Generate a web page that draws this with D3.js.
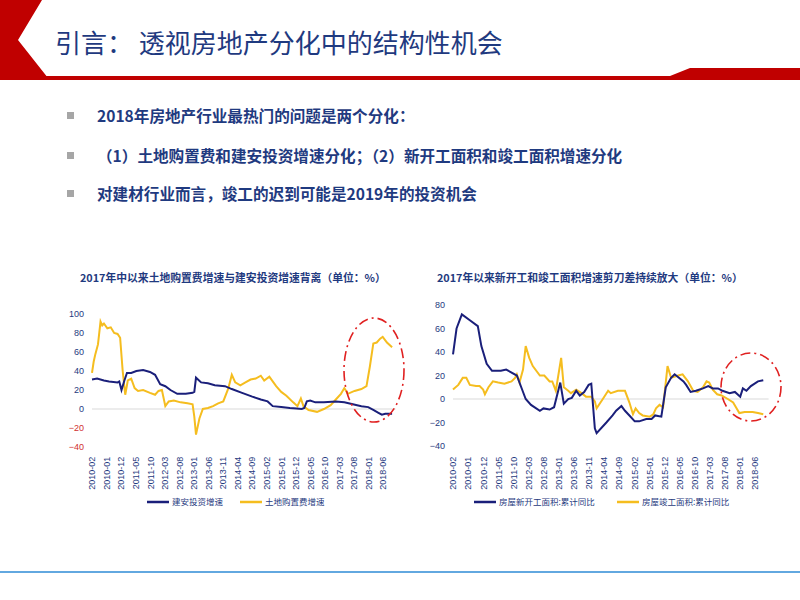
<!DOCTYPE html><html><head><meta charset="utf-8"><script src="https://cdn.jsdelivr.net/npm/d3@7"></script>
<style>body{margin:0;background:#fff}</style></head><body><svg id="s" width="800" height="600"></svg><script>
const xLabels=["2010-02","2010-01","2010-12","2011-05","2011-10","2012-03","2012-08","2013-01","2013-06","2013-11","2014-04","2014-09","2015-02","2015-01","2015-12","2016-05","2016-10","2017-03","2017-08","2018-01","2018-06"];
const yTicksL=[100,80,60,40,20,0,-20,-40];
const yTicksR=[80,60,40,20,0,-20,-40];
const jianan=[[0,31],[0.3,32],[0.7,30],[1,29],[1.5,28],[1.6,29],[1.73,20],[1.9,30],[2.05,38],[2.3,38],[2.6,40],[3.0,41],[3.4,39],[3.7,36],[4.0,26],[4.3,24],[4.6,20],[5.0,16],[5.5,16],[5.9,17],[6.0,18],[6.1,33],[6.4,28],[6.8,27],[7.2,25],[7.8,24],[8.2,21],[8.8,17],[9.4,13],[9.9,10],[10.3,8],[10.6,3],[11.1,2],[11.6,1],[12.0,0.5],[12.3,0],[12.45,1],[12.6,8],[12.8,9],[13.1,7],[13.6,7],[14.3,8],[14.8,7],[15.3,5],[15.8,3],[16.2,2],[16.5,-1],[16.8,-4],[17.0,-6],[17.2,-5],[17.6,-5]];
const tudi=[[0,38],[0.1,50],[0.2,58],[0.35,68],[0.5,92],[0.6,88],[0.7,90],[0.9,85],[1.1,86],[1.3,80],[1.5,79],[1.65,75],[1.8,40],[1.95,15],[2.1,30],[2.3,32],[2.5,22],[2.7,19],[3.0,20],[3.4,17],[3.7,15],[3.9,19],[4.1,20],[4.3,3],[4.5,8],[4.8,9],[5.2,7],[5.6,6],[5.9,5],[6.0,-8],[6.1,-27],[6.3,-10],[6.5,0],[6.8,1],[7.1,3],[7.4,6],[7.7,8],[8.0,22],[8.2,36],[8.4,28],[8.7,25],[9.0,28],[9.3,31],[9.6,32],[9.9,35],[10.1,30],[10.4,34],[10.8,24],[11.1,18],[11.4,14],[11.8,7],[12.05,3],[12.25,11],[12.4,3],[12.7,-1],[13.2,-3],[13.6,0],[14.0,4],[14.3,10],[14.6,16],[14.8,22],[15.0,16],[15.4,19],[15.8,21],[16.1,24],[16.3,45],[16.5,69],[16.7,70],[16.9,74],[17.05,76],[17.3,70],[17.6,65]];
const xinkaigong=[[0,38],[0.2,60],[0.5,72],[0.95,67],[1.4,62],[1.6,45],[1.9,30],[2.2,24],[2.7,24],[3.0,25],[3.6,20],[3.85,10],[4.1,0],[4.4,-5],[4.9,-10],[5.1,-8],[5.45,-9],[5.7,-7],[6.05,14],[6.25,-4],[6.5,0],[6.7,1],[6.95,7],[7.15,3],[7.4,6],[7.65,12],[7.8,13],[8.0,-25],[8.1,-29],[8.65,-20],[9.0,-14],[9.2,-10],[9.5,-6],[9.7,-10],[9.95,-14],[10.25,-19],[10.5,-19],[10.9,-17],[11.2,-17],[11.4,-14],[11.75,-15],[12.0,10],[12.3,18],[12.5,21],[13.0,15],[13.15,12],[13.4,6],[13.7,7],[14.1,9],[14.4,11],[14.65,9],[14.95,9],[15.2,7],[15.6,5],[15.9,6],[16.2,2],[16.35,9],[16.55,7],[16.8,11],[17.2,15],[17.5,16]];
const jungong=[[0,8],[0.3,12],[0.55,18],[0.75,18],[0.95,12],[1.3,11],[1.5,11],[1.7,8],[1.8,4],[2.0,10],[2.25,15],[2.55,14],[2.9,13],[3.3,15],[3.5,18],[3.6,21],[3.75,14],[3.95,25],[4.1,45],[4.3,35],[4.5,28],[4.9,20],[5.15,20],[5.45,15],[5.6,15],[5.8,7],[6.1,35],[6.25,10],[6.5,7],[6.65,5],[6.95,8],[7.25,5],[7.5,2],[7.8,2],[8.0,-2],[8.1,-8],[8.45,0],[8.75,7],[8.9,5],[9.3,7],[9.7,7],[9.95,-3],[10.15,-13],[10.3,-8],[10.5,-12],[10.7,-14],[11.1,-15],[11.3,-13],[11.45,-8],[11.65,-5],[11.85,-7],[12.1,28],[12.3,18],[12.7,20],[12.95,21],[13.25,15],[13.55,7],[13.8,6],[14.1,10],[14.3,15],[14.45,14],[14.65,8],[14.9,4],[15.15,3],[15.5,0],[15.8,-3],[16.0,-8],[16.15,-12],[16.45,-11],[16.9,-11],[17.2,-12],[17.5,-13]];
const svg=d3.select("#s");
const NAVY="#1a1f7a",GOLD="#f5bd1f",RED="#c00000",TXT="#1f3a80";
svg.append("path").attr("d","M0,0 L42,0 L18,40 L48,78 L30,80 L0,80 Z").attr("fill",RED);
svg.append("rect").attr("x",30).attr("y",76).attr("width",640).attr("height",4).attr("fill",RED);
svg.append("path").attr("d","M660,80 L690,68 L800,68 L800,80 Z").attr("fill",RED);
svg.append("text").attr("x",55).attr("y",53).attr("font-size",26).attr("fill","#1f3a80").attr("font-family","Noto Sans CJK SC").text("引言： 透视房地产分化中的结构性机会");
const bullets=["2018年房地产行业最热门的问题是两个分化：","（1）土地购置费和建安投资增速分化；（2）新开工面积和竣工面积增速分化","对建材行业而言，竣工的迟到可能是2019年的投资机会"];
[117,157,195].forEach((y,i)=>{svg.append("rect").attr("x",67).attr("y",y-5).attr("width",7).attr("height",7).attr("fill","#a6a6a6");
svg.append("text").attr("x",97).attr("y",y+5).attr("font-size",15.6).attr("font-weight","bold").attr("fill","#1f3a80").attr("font-family","Noto Sans CJK SC").text(bullets[i]);});
svg.append("line").attr("x1",0).attr("x2",800).attr("y1",572).attr("y2",572).attr("stroke","#2e8bd6").attr("stroke-width",1.5);
function chart(o){
 const x=d3.scaleLinear().domain([0,17]).range([o.x0,o.x0+17*o.dx]);
 const y=d3.scaleLinear().domain([o.ymax,-40]).range([o.ytop,o.ybot]);
 const g=svg.append("g");
 g.append("text").attr("x",o.tx).attr("y",282).attr("font-size",10.8).attr("font-weight","bold").attr("fill",TXT).attr("font-family","Noto Sans CJK SC").text(o.title);
 g.append("line").attr("x1",x(0)).attr("x2",x(17.8)).attr("y1",y(0)).attr("y2",y(0)).attr("stroke","#d9d9d9");
 const ag=g.append("g").attr("transform",`translate(${x(0)-4},0)`).call(d3.axisLeft(y).tickValues(o.yt).tickSize(0).tickPadding(4));
 ag.select(".domain").remove();
 ag.selectAll("text").attr("font-size",9).attr("font-family","Liberation Sans").attr("fill",d=>o.redNeg&&d<0?"#d03030":TXT);
 const xg=g.append("g").attr("transform",`translate(0,${o.xlab})`).call(d3.axisBottom(d3.scalePoint().domain(xLabels).range([x(0),o.xEnd])).tickSize(0));
 xg.select(".domain").remove();
 xg.selectAll("text").attr("font-size",9).attr("font-family","Liberation Sans").attr("fill",TXT).attr("transform","rotate(-90)").attr("text-anchor","end").attr("dx","-0.2em").attr("dy","0.32em").attr("y",0).attr("x",0);
 const line=d3.line().x(d=>x(d[0])).y(d=>y(d[1]));
 g.append("path").attr("d",line(o.s2)).attr("fill","none").attr("stroke",GOLD).attr("stroke-width",2);
 g.append("path").attr("d",line(o.s1)).attr("fill","none").attr("stroke",NAVY).attr("stroke-width",2);
 g.append("ellipse").attr("cx",o.e[0]).attr("cy",o.e[1]).attr("rx",o.e[2]).attr("ry",o.e[3]).attr("fill","none").attr("stroke","#e02020").attr("stroke-width",1.6).attr("stroke-dasharray","10,4,2,4");
 o.leg.forEach((l,i)=>{g.append("line").attr("x1",l[0]).attr("x2",l[0]+22).attr("y1",502).attr("y2",502).attr("stroke",i?GOLD:NAVY).attr("stroke-width",2.5);
 g.append("text").attr("x",l[0]+25).attr("y",505).attr("font-size",8.5).attr("fill",TXT).attr("font-family","Noto Sans CJK SC").text(l[1]);});
}
chart({x0:92,dx:17.05,xEnd:383,ymax:100,ytop:314,ybot:447,yt:yTicksL,redNeg:true,xlab:455,s1:jianan,s2:tudi,
 title:"2017年中以来土地购置费增速与建安投资增速背离（单位：%）",tx:80,e:[374,370,30,52],leg:[[147,"建安投资增速"],[240,"土地购置费增速"]]});
chart({x0:453,dx:17.73,xEnd:755,ymax:80,ytop:305,ybot:446,yt:yTicksR,redNeg:false,xlab:455,s1:xinkaigong,s2:jungong,
 title:"2017年以来新开工和竣工面积增速剪刀差持续放大（单位：%）",tx:437,e:[751,387,30,34],leg:[[474,"房屋新开工面积:累计同比"],[617,"房屋竣工面积:累计同比"]]});
</script></body></html>
